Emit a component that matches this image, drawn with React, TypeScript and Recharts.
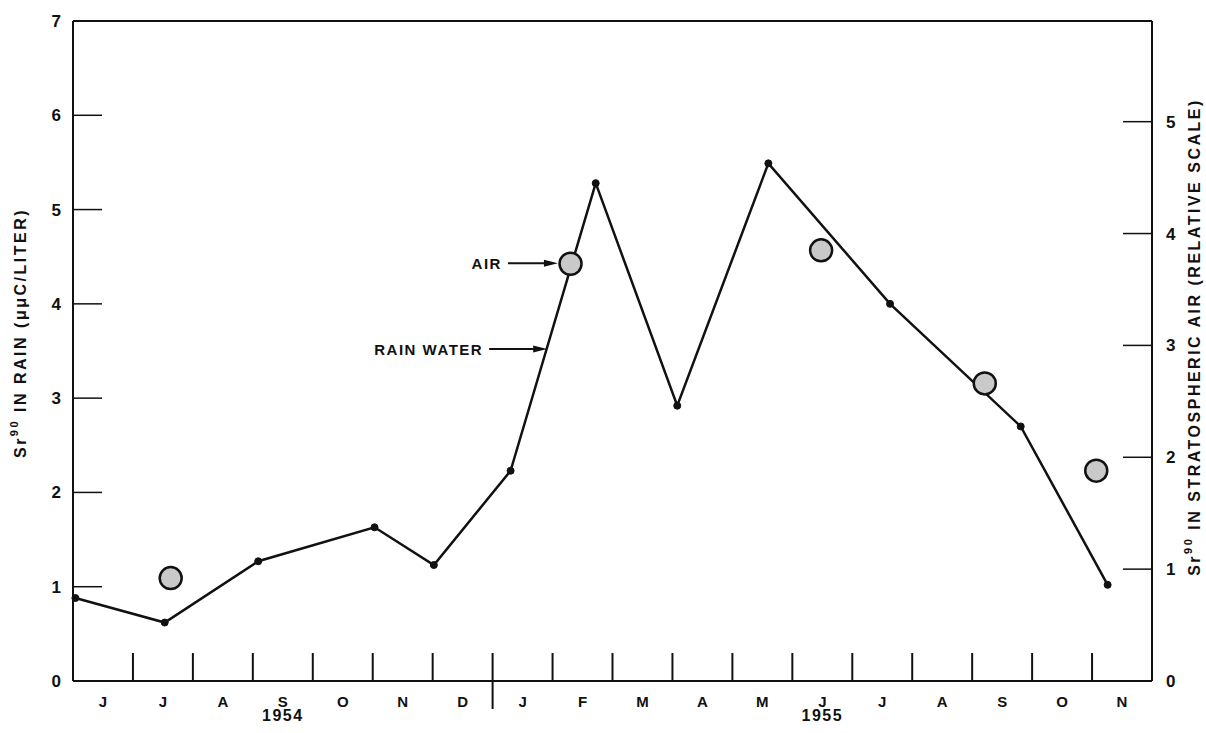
import React from 'react'
import { ComposedChart, Line, Scatter, XAxis, YAxis, ReferenceDot, Label } from 'recharts'

// months from June 1954 (0) to end of Nov 1955 (18)
const monthLabels = ['J', 'J', 'A', 'S', 'O', 'N', 'D', 'J', 'F', 'M', 'A', 'M', 'J', 'J', 'A', 'S', 'O', 'N']
const monthTicks = monthLabels.map((_, i) => i + 0.5)
const monthBounds = [1, 2, 3, 4, 5, 6, 7, 8, 9, 10, 11, 12, 13, 14, 15, 16, 17]
const yearLabels = ['1954', '1955']
const yearTicks = [3.5, 12.5]
const yearDivider = [7]

const rainMonth = [0.04, 1.53, 3.09, 5.03, 6.02, 7.3, 8.72, 10.08, 11.6, 13.63, 15.81, 17.26]
const rainValue = [0.88, 0.62, 1.27, 1.63, 1.23, 2.23, 5.28, 2.92, 5.49, 4.0, 2.7, 1.02]

const airMonth = [1.63, 8.3, 12.48, 15.21, 17.07]
const airValue = [0.92, 3.73, 3.85, 2.66, 1.88]

const rainTicks = [0, 1, 2, 3, 4, 5, 6, 7]
const rainInnerTicks = [1, 2, 3, 4, 5, 6]
const airTicks = [0, 1, 2, 3, 4, 5]
const airInnerTicks = [1, 2, 3, 4, 5]

const rainData = rainMonth.map((m, i) => ({ month: m, rain: rainValue[i] }))
const airData = airMonth.map((m, i) => ({ month: m, air: airValue[i] }))

const INK = '#111'
const FONT = '"Liberation Sans", Arial, sans-serif'
const blank = () => ''

function SideLabel(props: any) {
  const { viewBox, text, dx, dy } = props
  const cx = viewBox.x + dx
  const cy = viewBox.y + viewBox.height / 2 + dy
  return (
    <text
      x={cx}
      y={cy}
      transform={`rotate(-90 ${cx} ${cy})`}
      textAnchor="middle"
      dominantBaseline="central"
      fontFamily={FONT}
      fontSize={16}
      fontWeight={700}
      letterSpacing={2.5}
      fill={INK}
    >
      <tspan>Sr</tspan>
      <tspan dy={-6} fontSize={11}>90</tspan>
      <tspan dy={6}>{' ' + text}</tspan>
    </text>
  )
}

function Pointer(props: any) {
  const { cx, cy, text, len } = props
  return (
    <g>
      <text x={cx - len - 6} y={cy} textAnchor="end" dominantBaseline="central" fontFamily={FONT} fontSize={15} fontWeight={700} letterSpacing={1.5} fill={INK}>
        {text}
      </text>
      <line x1={cx - len} y1={cy} x2={cx - 10} y2={cy} stroke={INK} strokeWidth={2} />
      <path d={`M${cx} ${cy} L${cx - 14} ${cy - 3.5} L${cx - 14} ${cy + 3.5} Z`} fill={INK} />
    </g>
  )
}

function AirDot(props: any) {
  const { cx, cy } = props
  return <circle cx={cx} cy={cy} r={11} fill="#c9c9c9" stroke={INK} strokeWidth={2.5} />
}

const tickText = { fill: INK, fontSize: 17, fontWeight: 700, fontFamily: FONT }

// invisible series so that the decoration-only axes get a domain and draw their ticks
function carrier(xId: string, yId: string) {
  return (
    <Line
      key={xId + yId}
      xAxisId={xId}
      yAxisId={yId}
      data={rainData}
      dataKey="rain"
      stroke="none"
      dot={false}
      activeDot={false}
      legendType="none"
      isAnimationActive={false}
    />
  )
}

export default function App() {
  return (
    <div style={{ position: 'absolute', left: 0, top: 0, background: '#fff' }}>
      <ComposedChart width={1206} height={733} margin={{ top: 20, right: 10, bottom: 3, left: 14 }}>
        <XAxis xAxisId="top" orientation="top" dataKey="month" type="number" domain={[0, 18]} height={1} tick={false} tickLine={false} axisLine={{ stroke: INK, strokeWidth: 2 }} />
        <XAxis
          xAxisId="sep"
          dataKey="month"
          type="number"
          domain={[0, 18]}
          ticks={monthBounds}
          interval={0}
          height={1}
          mirror
          tickFormatter={blank}
          tickSize={28}
          tickLine={{ stroke: INK, strokeWidth: 2 }}
          axisLine={{ stroke: INK, strokeWidth: 2 }}
        />
        <XAxis
          xAxisId="divider"
          dataKey="month"
          type="number"
          domain={[0, 18]}
          ticks={yearDivider}
          interval={0}
          height={1}
          tickFormatter={blank}
          tickSize={28}
          tickLine={{ stroke: INK, strokeWidth: 2 }}
          axisLine={false}
        />
        <XAxis
          xAxisId="months"
          dataKey="month"
          type="number"
          domain={[0, 18]}
          ticks={monthTicks}
          interval={0}
          height={26}
          tickFormatter={(v: number) => monthLabels[Math.floor(v)]}
          tick={{ ...tickText, fontSize: 15 }}
          tickSize={0}
          tickMargin={14}
          tickLine={false}
          axisLine={false}
        />
        <XAxis
          xAxisId="year"
          dataKey="month"
          type="number"
          domain={[0, 18]}
          ticks={yearTicks}
          interval={0}
          height={22}
          tickFormatter={(v: number) => yearLabels[yearTicks.indexOf(v)]}
          tick={{ ...tickText, fontSize: 16, letterSpacing: 1.5 }}
          tickSize={0}
          tickMargin={2}
          tickLine={false}
          axisLine={false}
        />
        <YAxis
          yAxisId="rainTicks"
          type="number"
          domain={[0, 7]}
          ticks={rainInnerTicks}
          interval={0}
          width={1}
          mirror
          tickFormatter={blank}
          tickSize={29}
          tickLine={{ stroke: INK, strokeWidth: 1.5 }}
          axisLine={{ stroke: INK, strokeWidth: 2 }}
        />
        <YAxis
          yAxisId="rain"
          type="number"
          domain={[0, 7]}
          ticks={rainTicks}
          interval={0}
          width={59}
          tick={tickText}
          tickSize={0}
          tickMargin={12}
          tickLine={false}
          axisLine={false}
        >
          <Label content={(p: any) => <SideLabel {...p} text="IN RAIN (μμC/LITER)" dx={6} dy={-18} />} />
        </YAxis>
        <YAxis
          yAxisId="airTicks"
          orientation="right"
          type="number"
          domain={[0, 5.9]}
          ticks={airInnerTicks}
          interval={0}
          width={1}
          mirror
          tickFormatter={blank}
          tickSize={29}
          tickLine={{ stroke: INK, strokeWidth: 1.5 }}
          axisLine={{ stroke: INK, strokeWidth: 2 }}
        />
        <YAxis
          yAxisId="air"
          orientation="right"
          type="number"
          domain={[0, 5.9]}
          ticks={airTicks}
          interval={0}
          width={44}
          tick={tickText}
          tickSize={0}
          tickMargin={14}
          tickLine={false}
          axisLine={false}
        >
          <Label content={(p: any) => <SideLabel {...p} text="IN STRATOSPHERIC AIR (RELATIVE SCALE)" dx={42} dy={-14} />} />
        </YAxis>
        {carrier('sep', 'rainTicks')}
        {carrier('divider', 'airTicks')}
        {carrier('year', 'rain')}
        {carrier('top', 'rain')}
        <Line
          xAxisId="months"
          yAxisId="rain"
          data={rainData}
          dataKey="rain"
          stroke={INK}
          strokeWidth={2.5}
          dot={{ r: 3.5, fill: INK, stroke: INK, strokeWidth: 1 }}
          activeDot={false}
          isAnimationActive={false}
        />
        <Scatter
          xAxisId="months"
          yAxisId="air"
          data={airData}
          dataKey="air"
          shape={<AirDot />}
          isAnimationActive={false}
        />
        <ReferenceDot xAxisId="months" yAxisId="rain" x={8.09} y={4.43} shape={(p: any) => <Pointer {...p} text="AIR" len={50} />} />
        <ReferenceDot xAxisId="months" yAxisId="rain" x={7.91} y={3.52} shape={(p: any) => <Pointer {...p} text="RAIN WATER" len={58} />} />
      </ComposedChart>
    </div>
  )
}
